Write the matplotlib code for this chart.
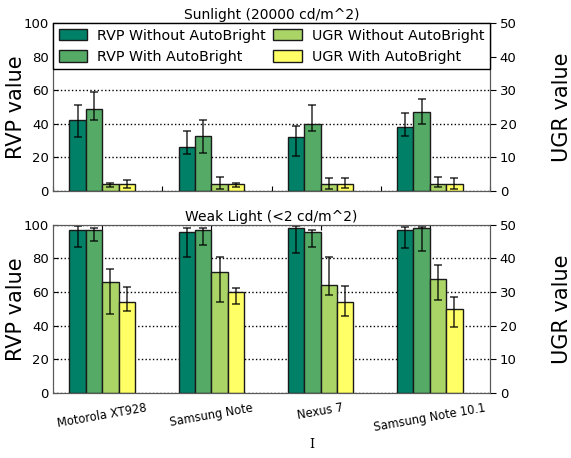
import numpy as np
import matplotlib
matplotlib.use('Agg')
import matplotlib.pyplot as plt

# devices tested
devices = ['Motorola XT928', 'Samsung Note', 'Nexus 7', 'Samsung Note 10.1']

# sunlight (20000 cd/m^2): RVP on left axis, UGR on right axis
rvp_sun_off = [42, 26, 32, 38]
rvp_sun_off_err = [[10, 4, 11, 5], [9, 9.5, 6.5, 8.5]]
rvp_sun_on = [49, 33, 40, 47]
rvp_sun_on_err = [[7, 10.5, 4.5, 7], [10, 9.5, 11, 7.5]]
ugr_sun_off = [2, 2, 2, 2]
ugr_sun_off_err = [[0.9, 1.5, 1.4, 0.8], [0.5, 2.2, 1.8, 2.3]]
ugr_sun_on = [2, 2, 2, 2]
ugr_sun_on_err = [[1.1, 0.8, 1.0, 1.4], [1.2, 0.5, 1.8, 2.0]]

# weak light (<2 cd/m^2)
rvp_weak_off = [97, 96, 98, 97]
rvp_weak_off_err = [[10, 15, 15, 10.5], [2.4, 2, 1.4, 1.6]]
rvp_weak_on = [97, 97, 96, 98]
rvp_weak_on_err = [[6.5, 9, 9, 13.7], [1.2, 1, 1, 0.6]]
ugr_weak_off = [33, 36, 32, 34]
ugr_weak_off_err = [[9.4, 8.9, 3, 6.2], [3.8, 4.3, 8.3, 4]]
ugr_weak_on = [27, 30, 27, 25]
ugr_weak_on_err = [[2.5, 3.4, 4, 5.5], [4.4, 1.2, 4.9, 3.4]]

labels = ['RVP Without AutoBright', 'RVP With AutoBright',
          'UGR Without AutoBright', 'UGR With AutoBright']
cmap = plt.get_cmap('summer')
colors = [cmap(0.0), cmap(0.333), cmap(0.667), cmap(1.0)]

width = 0.15
x = np.arange(len(devices))
err_kw = dict(ecolor='k', alpha=0.75, capsize=3, elinewidth=1.2, capthick=1.2)

fig = plt.figure(figsize=(5.71, 4.58), dpi=100)
ax_top = fig.add_axes([0.093, 0.583, 0.765, 0.367])
ax_bot = fig.add_axes([0.093, 0.142, 0.765, 0.367])


def draw_panel(ax, rvp, ugr, title):
    ax2 = ax.twinx()
    bars = []
    for k in range(2):
        b = ax.bar(x + width * (k + 1), rvp[k][0], width, align='edge',
                   yerr=rvp[k][1], color=colors[k], edgecolor='0.1',
                   linewidth=1, error_kw=err_kw, label=labels[k])
        bars.append(b)
    for k in range(2):
        b = ax2.bar(x + width * (k + 3), ugr[k][0], width, align='edge',
                    yerr=ugr[k][1], color=colors[k + 2], edgecolor='0.1',
                    linewidth=1, error_kw=err_kw, label=labels[k + 2])
        bars.append(b)
    ax.set_xlim(0, 4)
    ax.set_ylim(0, 100)
    ax2.set_ylim(0, 50)
    ax.set_yticks(range(0, 101, 20))
    ax2.set_yticks(range(0, 51, 10))
    ax.yaxis.grid(True, linestyle=':', color='k', linewidth=1)
    ax.set_axisbelow(True)
    ax.set_ylabel('RVP value', fontsize=15)
    ax.yaxis.set_label_coords(-0.062, 0.5)
    ax2.set_ylabel('UGR value', fontsize=15)
    ax2.yaxis.set_label_coords(1.142, 0.5)
    ax.set_title(title, fontsize=10, pad=3)
    ax.tick_params(labelsize=9.5, direction='in', top=True, pad=3)
    ax2.tick_params(labelsize=9.5, direction='out', length=4, pad=3)
    for a in (ax, ax2):
        for s in a.spines.values():
            s.set_color('0.35')
    return ax2, bars


ax2_top, bars = draw_panel(
    ax_top,
    [(rvp_sun_off, rvp_sun_off_err), (rvp_sun_on, rvp_sun_on_err)],
    [(ugr_sun_off, ugr_sun_off_err), (ugr_sun_on, ugr_sun_on_err)],
    'Sunlight (20000 cd/m^2)')
ax_top.set_xticks(np.arange(5))
ax_top.set_xticklabels([])

leg = ax2_top.legend(bars, labels, ncol=2, mode='expand', loc='upper left',
                     bbox_to_anchor=(0, 0.7, 1, 0.3), borderaxespad=0,
                     fontsize=10.3, framealpha=1, fancybox=False,
                     handlelength=2.0, handleheight=0.85, handletextpad=0.7,
                     columnspacing=0.6, borderpad=0.4)
leg.get_frame().set_edgecolor('k')

ax2_bot, _ = draw_panel(
    ax_bot,
    [(rvp_weak_off, rvp_weak_off_err), (rvp_weak_on, rvp_weak_on_err)],
    [(ugr_weak_off, ugr_weak_off_err), (ugr_weak_on, ugr_weak_on_err)],
    'Weak Light (<2 cd/m^2)')
ax_bot.set_xticks(x + 0.45)
ax_bot.set_xticklabels(devices, rotation=10, fontsize=8.3)
ax_bot.tick_params(axis='x', pad=6)

fig.text(0.546, 0.03, 'I', family='DejaVu Serif', fontsize=9,
         ha='center', va='center')

fig.savefig('out.png', dpi=100)
